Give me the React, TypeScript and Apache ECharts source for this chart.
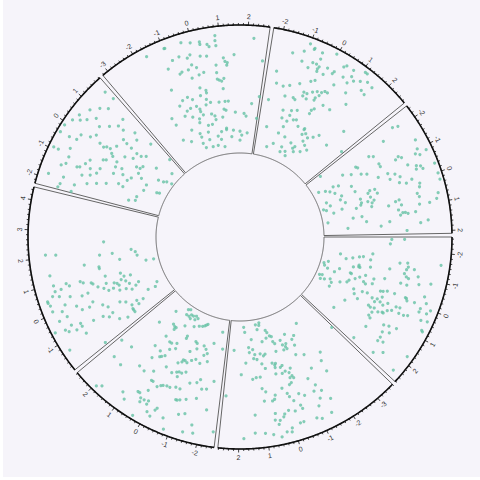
import React, { useEffect, useRef } from "react";
import * as echarts from "echarts";

// x-ranges of the eight sectors (clockwise from 3 o'clock)
const xlimA = [-2.57, 2.69];
const xlimB = [-3.67, 2.69];
const xlimC = [-2.59, 2.69];
const xlimD = [-1.99, 4.43];
const xlimE = [-2.29, 1.87];
const xlimF = [-3.21, 2.72];
const xlimG = [-2.33, 2.76];
const xlimH = [-2.45, 2.1];

// points of each sector as [x, y], y in 0..1 across the track
const pointsA = [
  [-2.46, 0.53], [-2.47, 0.63], [-2.25, 0.52], [-1.4, 0.14], [-1.16, 0.19], [-1.29, 0.24], [-1.41, 0.29], [-1.47, 0.32], [-1.68, 0.39], [-1.35, 0.38],
  [-0.49, 0.03], [-0.69, 0.06], [-0.32, 0.04], [-0.17, 0.07], [-0.1, 0.13], [0.51, 0.03], [0.43, 0.05], [0.77, 0.05], [0.66, 0.08], [0.47, 0.12],
  [0.66, 0.14], [0.95, 0.14], [-0.41, 0.16], [0.39, 0.2], [-0.37, 0.25], [-0.35, 0.26], [0.07, 0.26], [0.22, 0.25], [-0.76, 0.26], [-0.85, 0.3],
  [-0.94, 0.3], [-0.83, 0.31], [-0.14, 0.3], [-0.31, 0.33], [-0.49, 0.37], [-0.14, 0.37], [-0.06, 0.39], [-0.44, 0.44], [-0.19, 0.44], [-0.98, 0.39],
  [-0.61, 0.52], [-1.1, 0.54], [-1.44, 0.61], [-1.49, 0.67], [-1.33, 0.68], [-1.21, 0.67], [-1.03, 0.66], [-0.92, 0.68], [-0.61, 0.65], [-0.87, 0.7],
  [-0.6, 0.7], [-1.27, 0.73], [-1.03, 0.77], [-0.75, 0.79], [-0.87, 0.88], [-1.59, 0.93], [0.43, 0.32], [0.37, 0.39], [0.66, 0.34], [0.33, 0.43],
  [0.01, 0.52], [-0.03, 0.54], [-0.1, 0.57], [0.23, 0.55], [0.45, 0.48], [0.4, 0.52], [0.57, 0.51], [0.47, 0.55], [0.39, 0.61], [-0.11, 0.63],
  [1.23, 0.3], [0.82, 0.38], [-0.11, 0.72], [-0.09, 0.73], [-0.01, 0.74], [-0.05, 0.8], [-0.37, 0.86], [-0.16, 0.89], [0.85, 0.48], [0.89, 0.5],
  [0.84, 0.53], [0.55, 0.58], [0.92, 0.57], [0.84, 0.6], [0.85, 0.61], [0.68, 0.63], [0.59, 0.66], [0.38, 0.68], [0.35, 0.71], [0.57, 0.72],
  [0.56, 0.76], [0.5, 0.79], [1.25, 0.52], [1.33, 0.54], [1.06, 0.53], [1.94, 0.26], [0.08, 0.86], [0.21, 0.86], [0.17, 0.92], [0.02, 0.94],
  [0.46, 0.9], [0.41, 0.95], [1.76, 0.55], [1.28, 0.66], [1.21, 0.7], [1.14, 0.76], [1.55, 0.68], [1.43, 0.73], [0.76, 0.94], [0.79, 0.95],
  [1.77, 0.69], [1.95, 0.69], [1.87, 0.73], [2.5, 0.53], [2.43, 0.72], [2.19, 0.78], [1.78, 0.95], [2.44, 0.93],
];

const pointsB = [
  [1.67, 0.05], [1.61, 0.09], [0.74, 0.04], [0.44, 0.03], [0.49, 0.05], [0.68, 0.08], [0.11, 0.1], [0.04, 0.12], [-0.07, 0.15], [-0.18, 0.16],
  [0.19, 0.16], [0.5, 0.18], [1.19, 0.15], [1.41, 0.21], [1.17, 0.23], [1.39, 0.25], [1.08, 0.27], [1.17, 0.3], [0.99, 0.31], [1.63, 0.33],
  [0.76, 0.27], [0.59, 0.29], [0.48, 0.28], [-0.17, 0.2], [-0.25, 0.22], [-0.64, 0.21], [-0.67, 0.25], [-0.8, 0.27], [-0.89, 0.25], [-0.84, 0.29],
  [-0.64, 0.29], [-0.18, 0.28], [-1.05, 0.18], [-1.54, 0.22], [-1.33, 0.24], [-2.09, 0.15], [-1.32, 0.29], [-1.15, 0.36], [-1.54, 0.39], [0.21, 0.36],
  [0.04, 0.37], [0.1, 0.38], [0.76, 0.35], [0.62, 0.39], [0.11, 0.4], [-0.15, 0.41], [-0.26, 0.4], [-0.32, 0.45], [-0.61, 0.44], [-0.48, 0.47],
  [-0.56, 0.5], [-0.44, 0.51], [-0.6, 0.52], [-0.42, 0.55], [-0.31, 0.56], [0.16, 0.45], [-0.15, 0.46], [1.89, 0.42], [1.33, 0.46], [1.15, 0.45],
  [0.95, 0.45], [0.94, 0.54], [0.92, 0.64], [0.8, 0.57], [0.42, 0.61], [0.48, 0.64], [0.58, 0.65], [0.06, 0.57], [-0.1, 0.62], [-0.15, 0.65],
  [-0.56, 0.65], [-0.76, 0.68], [-1.54, 0.51], [-1.18, 0.57], [-1.35, 0.64], [-1.18, 0.68], [-1.47, 0.7], [-1.28, 0.75], [-1.11, 0.8], [-1.63, 0.79],
  [-1.42, 0.89], [-2.31, 0.44], [-2.12, 0.5], [-2.07, 0.59], [-0.27, 0.69], [-0.47, 0.74], [-0.5, 0.77], [-0.2, 0.77], [0.04, 0.75], [0.57, 0.75],
  [0.62, 0.8], [0.44, 0.81], [0.28, 0.79], [0.22, 0.77], [0.51, 0.84], [0.29, 0.91], [0.12, 0.92], [0.08, 0.89], [-0.25, 0.87], [-0.38, 0.87],
  [-0.86, 0.88], [-1.03, 0.9], [1.36, 0.74], [1.41, 0.88], [1.05, 0.89], [0.77, 0.91], [0.5, 0.94], [1.82, 0.92], [2.57, 0.59], [-3.6, 0.35],
  [2.32, 0.23],
];

const pointsC = [
  [1.53, 0.11], [0.88, 0.04], [0.72, 0.03], [0.77, 0.08], [0.56, 0.08], [0.45, 0.06], [0.28, 0.06], [0.07, 0.05], [-0.12, 0.06], [0.05, 0.08],
  [0.39, 0.09], [1.86, 0.26], [1.12, 0.2], [0.96, 0.21], [0.85, 0.21], [0.89, 0.23], [0.44, 0.16], [-0.13, 0.13], [-0.45, 0.11], [-0.67, 0.1],
  [-0.81, 0.09], [-0.9, 0.08], [-0.99, 0.07], [-2.19, 0.1], [-0.03, 0.22], [-0.04, 0.24], [1.04, 0.31], [0.69, 0.33], [0.56, 0.33], [0.3, 0.31],
  [0.22, 0.35], [0.47, 0.38], [-0.65, 0.23], [-0.77, 0.24], [-0.56, 0.32], [-0.87, 0.28], [-1.22, 0.24], [-1.39, 0.26], [-1.37, 0.31], [-1.53, 0.29],
  [-1.77, 0.2], [-2.37, 0.23], [1.2, 0.42], [0.83, 0.43], [2.01, 0.55], [2.53, 0.57], [2.23, 0.7], [1.82, 0.71], [0.97, 0.51], [0.69, 0.47],
  [0.62, 0.46], [0.5, 0.44], [0.17, 0.51], [-0.42, 0.4], [-0.52, 0.4], [-0.4, 0.42], [-0.24, 0.44], [-0.65, 0.41], [-0.83, 0.38], [-1.02, 0.36],
  [-1.29, 0.38], [-1.65, 0.35], [1.19, 0.62], [0.91, 0.63], [0.56, 0.59], [0.43, 0.66], [-0.18, 0.53], [-0.38, 0.51], [-0.48, 0.5], [-0.61, 0.5],
  [-0.49, 0.54], [-0.78, 0.48], [0.1, 0.68], [-0.02, 0.66], [-0.1, 0.65], [-0.25, 0.64], [-0.39, 0.64], [-0.62, 0.62], [-0.81, 0.62], [-1.13, 0.55],
  [-1.43, 0.53], [-1.56, 0.5], [-2.2, 0.49], [-1.72, 0.57], [-1.93, 0.56], [0.35, 0.66], [0.64, 0.79], [0.56, 0.79], [0.43, 0.82], [0.38, 0.85],
  [0.28, 0.82], [0.12, 0.81], [0.12, 0.84], [0.33, 0.74], [1.09, 0.86], [0.9, 0.9], [-0.29, 0.83], [-0.25, 0.85], [-0.63, 0.88], [-0.81, 0.71],
  [-0.87, 0.71], [-0.97, 0.7], [-1.2, 0.68], [-1.6, 0.65], [-2.11, 0.72], [-0.02, 0.89], [-0.18, 0.91], [0.35, 0.97], [-1.33, 0.79], [-1.11, 0.81],
  [-1.69, 0.86], [-1.44, 0.93], [-1.79, 0.92], [-2.49, 0.88], [-0.79, 0.96], [1.93, 0.96], [1.79, 0.93],
];

const pointsD = [
  [2.51, 0.41], [2.11, 0.87], [2.07, 0.79], [1.86, 0.45], [1.87, 0.35], [1.47, 0.3], [1.97, 0.2], [1.78, 0.17], [1.54, 0.16], [1.51, 0.58],
  [1.3, 0.47], [1.21, 0.47], [1.34, 0.86], [0.78, 0.44], [0.7, 0.32], [0.48, 0.3], [0.42, 0.25], [0.85, 0.64], [0.76, 0.62], [0.66, 0.56],
  [0.59, 0.55], [0.39, 0.52], [0.92, 0.75], [0.8, 0.73], [0.31, 0.39], [0.23, 0.37], [0.1, 0.36], [0.35, 0.33], [0.19, 0.3], [-0.02, 0.28],
  [0.76, 0.8], [0.96, 0.85], [0.74, 0.85], [0.48, 0.93], [0.42, 0.93], [0.31, 0.92], [0.6, 0.88], [0.52, 0.83], [0.39, 0.75], [0.26, 0.66],
  [0.28, 0.61], [0.23, 0.48], [0.42, 0.45], [0.05, 0.45], [0.06, 0.41], [-0.16, 0.37], [-0.23, 0.32], [-0.4, 0.28], [-0.28, 0.24], [-0.15, 0.21],
  [0.16, 0.81], [-0.05, 0.73], [-0.27, 0.7], [-0.3, 0.64], [-0.15, 0.6], [-0.46, 0.54], [-0.66, 0.51], [-0.71, 0.41], [-0.87, 0.37], [-1.17, 0.34],
  [-1.37, 0.35], [-1.57, 0.35], [-1.1, 0.29], [-1.33, 0.29], [0.09, 0.92], [-0.03, 0.85], [-0.27, 0.83], [-0.31, 0.9], [-0.62, 0.83], [-0.72, 0.76],
  [-0.85, 0.76], [-0.87, 0.66], [-0.93, 0.58], [-1.09, 0.54], [-1.0, 0.5], [-1.42, 0.48], [-1.59, 0.42], [-0.6, 0.97], [-0.68, 0.89], [-0.79, 0.87],
  [-0.87, 0.81], [-1.16, 0.76], [-1.35, 0.94], [-1.9, 0.68], [1.07, 0.1], [1.02, 0.04], [-0.88, 0.17], [-0.95, 0.11], [-1.21, 0.24], [-0.69, 0.08],
  [-1.45, 0.35],
];

const pointsE = [
  [1.67, 0.89], [1.73, 0.81], [1.12, 0.83], [1.33, 0.78], [0.84, 0.88], [0.47, 0.92], [0.19, 0.94], [-0.1, 0.97], [0.34, 0.89], [0.5, 0.85],
  [0.75, 0.8], [1.43, 0.64], [0.58, 0.74], [0.84, 0.68], [1.1, 0.63], [1.11, 0.58], [-0.37, 0.97], [-0.36, 0.89], [-0.31, 0.83], [-0.08, 0.82],
  [0.05, 0.75], [0.24, 0.72], [0.05, 0.66], [0.0, 0.62], [0.08, 0.6], [0.11, 0.57], [-0.04, 0.54], [0.36, 0.54], [0.79, 0.53], [0.75, 0.49],
  [1.39, 0.5], [1.2, 0.45], [0.72, 0.44], [0.18, 0.44], [0.68, 0.38], [0.36, 0.38], [0.71, 0.34], [0.89, 0.31], [1.56, 0.35], [-0.93, 0.96],
  [-0.93, 0.92], [-0.71, 0.84], [-1.02, 0.82], [-1.28, 0.82], [-1.4, 0.85], [-1.24, 0.73], [-1.19, 0.71], [-0.98, 0.68], [-0.76, 0.66], [-1.08, 0.63],
  [-1.47, 0.67], [-1.34, 0.61], [-1.15, 0.57], [-0.9, 0.56], [-0.49, 0.57], [-0.42, 0.55], [-0.13, 0.52], [-0.25, 0.47], [-0.49, 0.46], [-0.41, 0.41],
  [-0.82, 0.45], [-0.66, 0.38], [-0.82, 0.33], [-0.6, 0.31], [0.09, 0.32], [0.13, 0.29], [0.31, 0.28], [-0.16, 0.28], [-0.32, 0.24], [-0.53, 0.18],
  [-0.92, 0.18], [-1.48, 0.21], [-1.72, 0.21], [-1.85, 0.26], [-1.24, 0.34], [-1.18, 0.38], [-1.41, 0.47], [-1.58, 0.54], [-1.73, 0.61], [-1.95, 0.7],
  [-1.79, 0.8], [-2.06, 0.81], [-1.84, 0.92], [0.74, 0.19], [0.18, 0.12], [-0.66, 0.08], [-0.59, 0.06], [0.29, 0.08], [0.44, 0.06], [1.17, 0.07],
  [0.55, 0.02], [1.75, 0.16], [-2.24, 0.71], [-2.2, 0.82],
];

const pointsF = [
  [0.85, 0.93], [2.21, 0.9], [-0.35, 0.93], [-0.04, 0.91], [0.28, 0.9], [0.53, 0.87], [0.59, 0.85], [0.84, 0.85], [0.83, 0.89], [0.28, 0.88],
  [-0.94, 0.93], [-0.97, 0.93], [-1.63, 0.93], [1.49, 0.77], [-0.84, 0.82], [-0.57, 0.83], [-0.29, 0.8], [-0.16, 0.82], [-0.2, 0.74], [-0.04, 0.71],
  [0.2, 0.79], [0.44, 0.78], [0.75, 0.7], [1.07, 0.75], [1.12, 0.72], [1.21, 0.71], [1.18, 0.69], [2.61, 0.73], [-1.11, 0.77], [-0.75, 0.7],
  [-0.65, 0.71], [-0.38, 0.71], [-0.33, 0.64], [-0.01, 0.65], [0.2, 0.66], [0.73, 0.64], [0.72, 0.59], [0.8, 0.58], [0.9, 0.57], [1.01, 0.59],
  [-1.34, 0.61], [-0.12, 0.55], [0.12, 0.52], [0.12, 0.5], [-0.19, 0.49], [-0.8, 0.51], [-1.07, 0.5], [-0.61, 0.48], [-0.85, 0.42], [-1.06, 0.41],
  [-1.3, 0.47], [-0.53, 0.42], [-0.41, 0.39], [-0.41, 0.37], [0.04, 0.45], [0.21, 0.42], [-0.04, 0.41], [0.64, 0.41], [0.95, 0.41], [1.12, 0.41],
  [0.93, 0.51], [0.85, 0.35], [0.95, 0.34], [0.72, 0.29], [0.13, 0.33], [0.29, 0.31], [0.31, 0.28], [-0.32, 0.34], [-0.59, 0.32], [-0.91, 0.35],
  [-1.27, 0.38], [-1.94, 0.41], [-1.91, 0.35], [-0.65, 0.29], [-0.21, 0.25], [0.04, 0.25], [0.86, 0.2], [1.46, 0.32], [1.95, 0.31], [2.33, 0.39],
  [2.68, 0.45], [2.07, 0.29], [2.69, 0.28], [-0.86, 0.21], [-0.33, 0.2], [0.51, 0.18], [0.85, 0.19], [1.29, 0.18], [1.72, 0.17], [-1.99, 0.22],
  [-1.57, 0.18], [-0.84, 0.18], [-0.39, 0.14], [0.23, 0.15], [0.41, 0.12], [0.09, 0.08], [-0.3, 0.08], [-0.8, 0.09], [-0.9, 0.13], [0.57, 0.06],
  [1.15, 0.13], [1.84, 0.14], [1.72, 0.1], [-1.25, 0.26], [2.2, 0.16],
];

const pointsG = [
  [-1.0, 0.95], [-0.8, 0.93], [-0.81, 0.92], [-1.5, 0.84], [-1.12, 0.88], [-0.5, 0.92], [-0.04, 0.96], [-1.08, 0.8], [-0.68, 0.82], [-0.78, 0.77],
  [-0.53, 0.82], [-0.4, 0.81], [-0.43, 0.79], [-0.41, 0.77], [-0.47, 0.87], [-0.14, 0.77], [0.15, 0.81], [0.18, 0.83], [-0.1, 0.83], [0.39, 0.9],
  [0.46, 0.92], [0.74, 0.92], [1.11, 0.96], [1.19, 0.96], [0.56, 0.83], [0.81, 0.87], [0.96, 0.85], [0.8, 0.81], [1.16, 0.88], [1.38, 0.91],
  [1.62, 0.9], [-1.5, 0.57], [-1.23, 0.59], [-0.85, 0.63], [-0.46, 0.68], [-0.32, 0.7], [0.42, 0.74], [-0.54, 0.58], [-0.39, 0.58], [-0.52, 0.55],
  [-0.2, 0.61], [-0.03, 0.63], [0.15, 0.64], [0.25, 0.66], [0.37, 0.66], [0.12, 0.61], [0.02, 0.58], [0.02, 0.56], [-0.32, 0.54], [-0.79, 0.5],
  [-0.9, 0.51], [-1.29, 0.5], [0.49, 0.56], [0.85, 0.56], [0.14, 0.48], [0.23, 0.5], [0.14, 0.45], [-0.48, 0.43], [-0.74, 0.41], [-0.73, 0.37],
  [-0.46, 0.35], [-0.31, 0.36], [-0.76, 0.32], [-0.83, 0.27], [1.39, 0.83], [1.57, 0.82], [0.98, 0.74], [1.27, 0.67], [-0.07, 0.32], [0.32, 0.32],
  [0.52, 0.3], [0.32, 0.33], [0.36, 0.28], [-0.5, 0.2], [1.18, 0.35], [0.98, 0.31], [0.74, 0.28], [1.84, 0.33], [0.85, 0.22], [0.37, 0.17],
  [0.3, 0.15], [0.84, 0.16], [1.13, 0.2], [0.62, 0.24], [0.02, 0.18], [0.1, 0.07], [0.46, 0.13], [1.99, 0.5], [2.66, 0.38], [-1.93, 0.67],
  [-1.79, 0.23], [-0.97, 0.21], [-1.06, 0.12], [-1.44, 0.08], [-0.42, 0.12], [-0.38, 0.08], [-0.06, 0.1], [-1.82, 0.58], [-2.02, 0.44], [-1.16, 0.39],
  [-1.08, 0.33],
];

const pointsH = [
  [-2.06, 0.85], [-2.14, 0.81], [-1.9, 0.69], [-1.32, 0.91], [-1.01, 0.89], [-0.88, 0.86], [-0.79, 0.89], [-0.85, 0.95], [-0.29, 0.87], [-0.47, 0.83],
  [-0.41, 0.86], [-0.35, 0.82], [-0.62, 0.77], [-0.98, 0.75], [-1.07, 0.73], [-1.0, 0.7], [-1.17, 0.57], [-1.03, 0.57], [-1.69, 0.53], [-1.58, 0.56],
  [-1.0, 0.45], [-1.13, 0.41], [-1.59, 0.4], [-1.5, 0.41], [-1.36, 0.34], [-1.58, 0.28], [-2.3, 0.13], [-1.39, 0.05], [-1.21, 0.1], [-1.04, 0.13],
  [-1.24, 0.17], [-1.13, 0.21], [-0.8, 0.16], [-0.42, 0.07], [-0.1, 0.09], [0.02, 0.03], [0.15, 0.05], [0.36, 0.17], [0.01, 0.21], [-0.47, 0.2],
  [-0.77, 0.3], [-0.41, 0.31], [0.09, 0.33], [0.3, 0.33], [0.41, 0.32], [0.53, 0.28], [-0.08, 0.4], [-0.18, 0.42], [-0.16, 0.46], [0.06, 0.47],
  [0.33, 0.38], [0.45, 0.41], [0.34, 0.43], [0.63, 0.4], [0.14, 0.41], [-0.63, 0.52], [-0.62, 0.6], [-0.35, 0.6], [-0.48, 0.65], [-0.3, 0.68],
  [-0.08, 0.66], [0.03, 0.71], [-0.05, 0.76], [0.18, 0.81], [0.31, 0.8], [0.53, 0.77], [0.67, 0.78], [0.86, 0.91], [0.68, 0.93], [-0.32, 0.97],
  [0.03, 0.97], [0.25, 0.97], [0.78, 0.53], [1.04, 0.6], [1.27, 0.61], [1.18, 0.63], [1.24, 0.67], [1.22, 0.73], [0.95, 0.77], [0.96, 0.85],
  [1.67, 0.76], [1.59, 0.82], [1.51, 0.52], [1.68, 0.45], [1.95, 0.65], [0.62, 0.62], [0.66, 0.59], [0.85, 0.63], [1.19, 0.65], [1.1, 0.04],
  [1.66, 0.19], [1.07, 0.24], [1.06, 0.31], [1.38, 0.34], [0.47, 0.1], [-0.26, 0.18],
];

const sectors = [
  { xlim: xlimA, points: pointsA },
  { xlim: xlimB, points: pointsB },
  { xlim: xlimC, points: pointsC },
  { xlim: xlimD, points: pointsD },
  { xlim: xlimE, points: pointsE },
  { xlim: xlimF, points: pointsF },
  { xlim: xlimG, points: pointsG },
  { xlim: xlimH, points: pointsH },
];

// layout
const CENTER = [240, 237];
const INNER_R = 84;
const OUTER_R = 212;
const GAP_DEG = 1;
const MINOR_PER_UNIT = 6;
const POINT_COLOR = "#66c2a5";

function buildOption() {
  const totalRange = sectors.reduce((s, sec) => s + (sec.xlim[1] - sec.xlim[0]), 0);
  const degPerUnit = (360 - GAP_DEG * sectors.length) / totalRange;

  const starts: number[] = [];
  let cursor = 0;
  sectors.forEach((sec) => {
    starts.push(((cursor % 360) + 360) % 360);
    cursor -= (sec.xlim[1] - sec.xlim[0]) * degPerUnit + GAP_DEG;
  });

  // sector border, outer axis line, ticks and tick labels
  const frame = (xlim: number[]) => (params: any, api: any) => {
    const cs = params.coordSys;
    const cx = cs.cx;
    const cy = cs.cy;
    const n = 120;
    const outer: number[][] = [];
    const inner: number[][] = [];
    for (let i = 0; i <= n; i++) {
      const v = xlim[0] + ((xlim[1] - xlim[0]) * i) / n;
      outer.push(api.coord([1, v]));
      inner.push(api.coord([0, v]));
    }
    const children: any[] = [
      {
        type: "polygon",
        shape: { points: outer.concat(inner.slice().reverse()) },
        style: { fill: "none", stroke: "#666666", lineWidth: 1 },
      },
      {
        type: "polyline",
        shape: { points: outer },
        style: { fill: "none", stroke: "#111111", lineWidth: 1.6 },
      },
    ];
    const first = Math.ceil(xlim[0] * MINOR_PER_UNIT - 1e-9);
    const last = Math.floor(xlim[1] * MINOR_PER_UNIT + 1e-9);
    for (let k = first; k <= last; k++) {
      const v = k / MINOR_PER_UNIT;
      const p = api.coord([1, v]);
      const ox = p[0] - cx;
      const oy = p[1] - cy;
      const len = Math.hypot(ox, oy);
      const ux = ox / len;
      const uy = oy / len;
      const major = k % MINOR_PER_UNIT === 0;
      const tl = major ? 3.5 : 2;
      children.push({
        type: "line",
        shape: { x1: p[0], y1: p[1], x2: p[0] + ux * tl, y2: p[1] + uy * tl },
        style: { stroke: "#111111", lineWidth: 0.8 },
      });
      if (major) {
        const theta = Math.atan2(-uy, ux);
        const rot = Math.sin(theta) >= -1e-6 ? theta - Math.PI / 2 : theta + Math.PI / 2;
        children.push({
          type: "text",
          x: p[0] + ux * 8.5,
          y: p[1] + uy * 8.5,
          rotation: rot,
          style: {
            text: String(Math.round(v)),
            fontSize: 7,
            fontFamily: "Liberation Sans, Arial, sans-serif",
            fill: "#333333",
            align: "center",
            verticalAlign: "middle",
          },
        });
      }
    }
    return { type: "group", children };
  };

  return {
    animation: false,
    backgroundColor: "transparent",
    polar: sectors.map(() => ({ center: CENTER, radius: [INNER_R, OUTER_R] })),
    angleAxis: sectors.map((sec, i) => ({
      polarIndex: i,
      type: "value",
      min: sec.xlim[0],
      max: sec.xlim[0] + 360 / degPerUnit,
      startAngle: starts[i],
      clockwise: true,
      show: false,
    })),
    radiusAxis: sectors.map((_, i) => ({
      polarIndex: i,
      type: "value",
      min: 0,
      max: 1,
      show: false,
    })),
    series: [
      ...sectors.map((sec, i) => ({
        type: "custom",
        coordinateSystem: "polar",
        polarIndex: i,
        data: [[0.5, sec.xlim[0]]],
        renderItem: frame(sec.xlim),
        silent: true,
        z: 1,
      })),
      ...sectors.map((sec, i) => ({
        type: "scatter",
        coordinateSystem: "polar",
        polarIndex: i,
        data: sec.points.map(([x, y]) => [y, x]),
        symbol: "circle",
        symbolSize: 3.2,
        itemStyle: { color: POINT_COLOR },
        silent: true,
        z: 2,
      })),
    ],
  };
}

export default function App() {
  const ref = useRef<HTMLDivElement>(null);
  useEffect(() => {
    if (!ref.current) return;
    const chart = echarts.init(ref.current, null, { renderer: "svg" });
    chart.setOption(buildOption() as any);
    return () => chart.dispose();
  }, []);
  return (
    <div style={{ position: "fixed", left: 0, top: 0, width: 480, height: 480, background: "#ffffff" }}>
      <div style={{ position: "absolute", left: 3, top: 0, width: 477, height: 477, background: "#f6f4fa" }} />
      <div ref={ref} style={{ position: "absolute", left: 0, top: 0, width: 480, height: 480 }} />
    </div>
  );
}
